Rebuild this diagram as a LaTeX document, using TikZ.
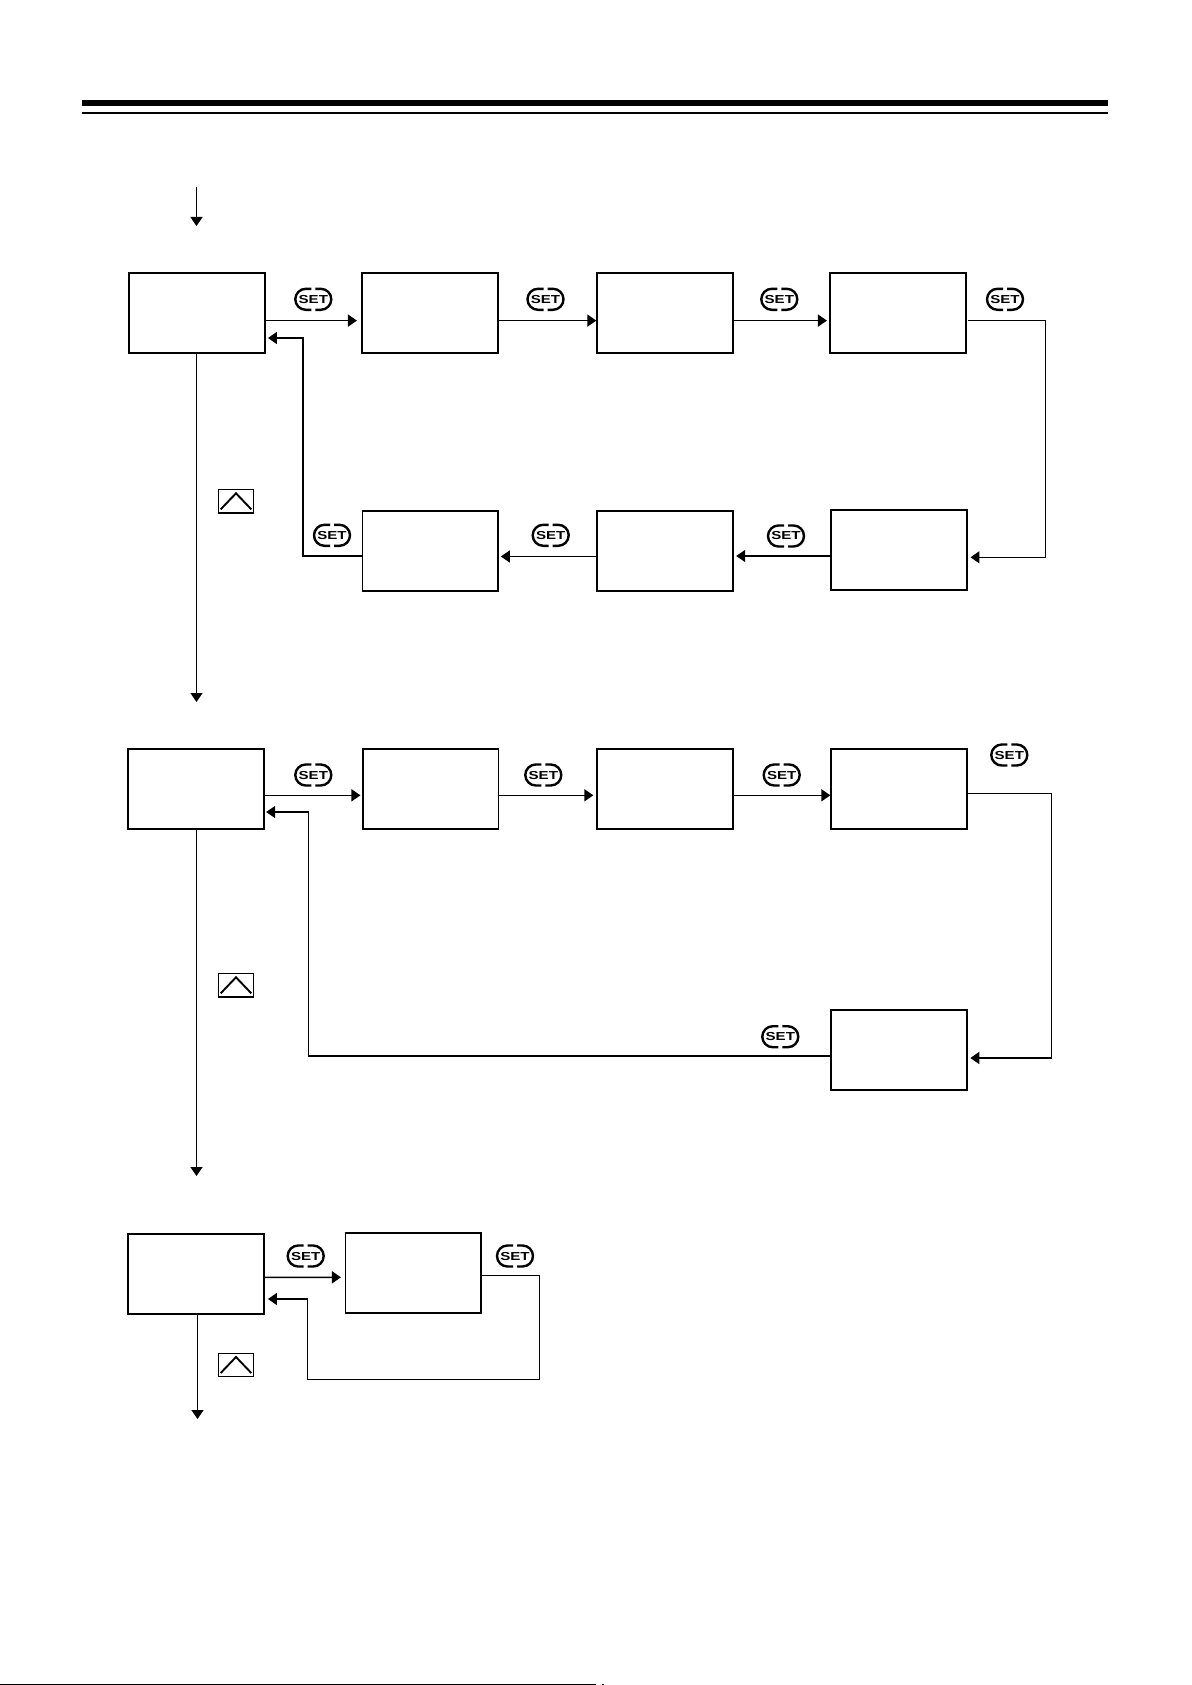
\documentclass[tikz,border=0pt]{standalone}
\usepackage{fontspec}
\newfontfamily\keyfont{Liberation Sans}
\usetikzlibrary{arrows.meta}

\tikzset{
  menubox/.style={draw, line width=.9pt, minimum width=67.75pt, minimum height=40pt, inner sep=0pt},
  flow/.style={line width=.75pt, -{Triangle[length=4.5pt, width=6pt]}},
  keybox/.style={draw, line width=.6pt, minimum width=17.25pt, minimum height=11.75pt, inner sep=0pt},
  setkey/.pic={
    \draw[line width=1.2pt] (-2,-10.5) -- (-7.5,-10.5) arc[start angle=90, end angle=270, radius=5.25pt] -- (-2,10.5);
    \draw[line width=1.2pt] (2,10.5) -- (7.5,10.5) arc[start angle=-90, end angle=90, radius=5.25pt] -- (2,-10.5);
    \node[inner sep=0pt, xscale=1.3, font=\keyfont\bfseries\fontsize{5.8}{5.8}\selectfont] (-label) {SET};
  },
  upkey/.pic={
    \node[keybox] (-frame) {};
    \draw[line width=.95pt] (-15.3,8) -- (0,-8) -- (15.3,8);
  }
}

\begin{document}
\begin{tikzpicture}[x=.5pt, y=-.5pt]
    \useasboundingbox (0,0) rectangle (1191,1685);

    \draw[line width=3pt] (82,103) -- (1108,103);
    \draw[line width=1pt] (82,113) -- (1108,113);
    \draw[line width=.6pt] (0,1684.4) -- (596,1684.4);
    \fill (602,1684) rectangle (604,1685);

    \node[menubox] (a1) at (197,313.3) {};
    \node[menubox] (a2) at (430,313.3) {};
    \node[menubox] (a3) at (665,313.3) {};
    \node[menubox] (a4) at (898,313.3) {};
    \node[menubox] (a5) at (899,550) {};
    \node[menubox] (a6) at (665,551) {};
    \node[menubox] (a7) at (430.2,550.6) {};

    \node[menubox] (b1) at (196,788.6) {};
    \node[menubox] (b2) at (430.7,788.6) {};
    \node[menubox] (b3) at (665,788.6) {};
    \node[menubox] (b4) at (899,788.6) {};
    \node[menubox] (b5) at (899,1050) {};

    \node[menubox] (c1) at (196,1274) {};
    \node[menubox] (c2) at (413.3,1273.1) {};

    \coordinate (entry) at (196.5,187);
    \coordinate (entryend) at (196.5,226);
    \coordinate (aend) at (196.5,702);
    \coordinate (bend) at (196.5,1176);
    \coordinate (cend) at (197.5,1419);
    \coordinate (aright) at (1045.7,557.3);
    \coordinate (aleft) at (303,338);
    \coordinate (bright) at (1051.3,1058);
    \coordinate (bleft) at (308.3,812);
    \coordinate (cright) at (539.3,1379.3);
    \coordinate (cleft) at (307.3,1299);

    \draw[flow] (entry) -- (entryend);
    \draw[flow] ([yshift=-3.65pt]a1.east) -- ([xshift=-2.2pt, yshift=-3.65pt]a2.west);
    \draw[flow] ([yshift=-3.65pt]a2.east) -- ([yshift=-3.65pt]a3.west);
    \draw[flow] ([yshift=-3.65pt]a3.east) -- ([xshift=-1.2pt, yshift=-3.65pt]a4.west);
    \draw[flow] ([xshift=.5pt, yshift=-3.65pt]a4.east) -| (aright) -- ([xshift=1.4pt, yshift=-3.65pt]a5.east);
    \draw[flow] ([yshift=-3pt]a5.west) -- ([xshift=1.25pt, yshift=-2.5pt]a6.east);
    \draw[flow] ([yshift=-2.75pt]a6.west) -- ([xshift=1pt, yshift=-2.95pt]a7.east);
    \draw[flow] ([yshift=-2.7pt]a7.west) -| (aleft) -- ([xshift=1.15pt, yshift=-12.35pt]a1.east);
    \draw[flow] (a1.south -| aend) -- (aend);

    \draw[flow] ([yshift=-3.35pt]b1.east) -- ([xshift=-.8pt, yshift=-3.35pt]b2.west);
    \draw[flow] ([yshift=-3.35pt]b2.east) -- ([xshift=-1.5pt, yshift=-3.35pt]b3.west);
    \draw[flow] ([yshift=-3.35pt]b3.east) -- ([yshift=-3.35pt]b4.west);
    \draw[flow] ([yshift=-2.55pt]b4.east) -| (bright) -- ([xshift=1.35pt, yshift=-4pt]b5.east);
    \draw[flow] ([yshift=-3pt]b5.west) -| (bleft) -- ([xshift=.75pt, yshift=-11.7pt]b1.east);
    \draw[flow] (b1.south -| bend) -- (bend);

    \draw[flow] ([yshift=-1.65pt]c1.east) -- ([xshift=-1.85pt, yshift=-2.1pt]c2.west);
    \draw[flow] ([yshift=-1.3pt]c2.east) -| (cright) -| (cleft) -- ([xshift=1.65pt, yshift=-12.5pt]c1.east);
    \draw[flow] (c1.south -| cend) -- (cend);

    \pic (sa1) at (313.3,299.3) {setkey};
    \pic (sa2) at (545.5,299.3) {setkey};
    \pic (sa3) at (779.3,299.3) {setkey};
    \pic (sa4) at (1005,299.3) {setkey};
    \pic (sa5) at (786,536) {setkey};
    \pic (sa6) at (550.7,535.3) {setkey};
    \pic (sa7) at (332,535.3) {setkey};

    \pic (sb1) at (313.3,775) {setkey};
    \pic (sb2) at (543.3,775) {setkey};
    \pic (sb3) at (781.7,775) {setkey};
    \pic (sb4) at (1009.3,755) {setkey};
    \pic (sb5) at (780.3,1036.7) {setkey};

    \pic (sc1) at (305.7,1256) {setkey};
    \pic (sc2) at (515,1256) {setkey};

    \pic (ka) at (236,501.3) {upkey};
    \pic (kb) at (236,985.3) {upkey};
    \pic (kc) at (236,1365) {upkey};
\end{tikzpicture}
\end{document}
